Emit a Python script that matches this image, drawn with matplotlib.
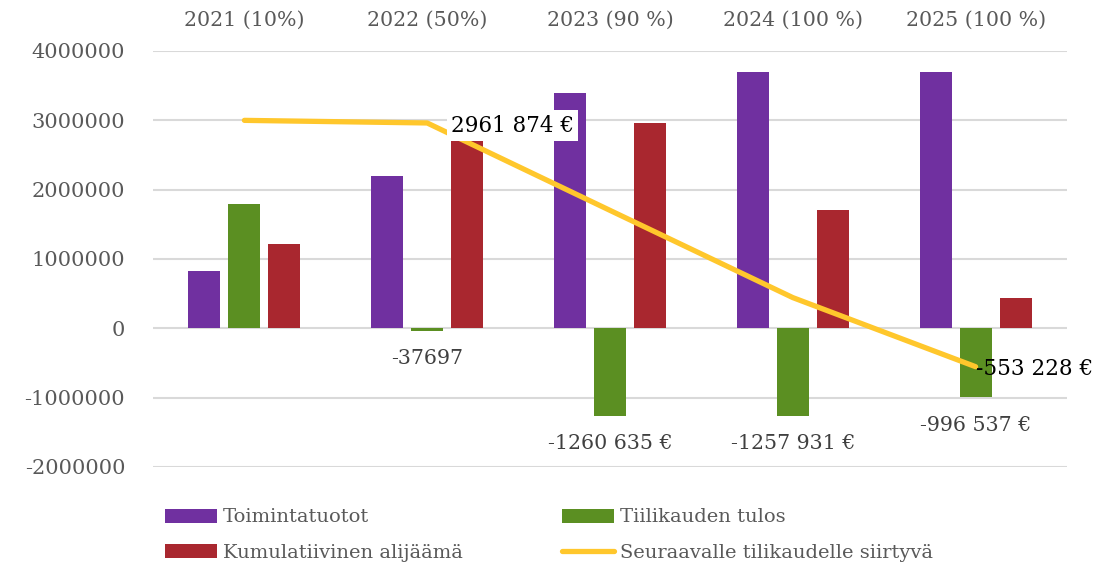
import matplotlib
matplotlib.use("Agg")
import matplotlib.pyplot as plt
import numpy as np

# data
vuodet = ['2021 (10%)', '2022 (50%)', '2023 (90 %)', '2024 (100 %)', '2025 (100 %)']
toimintatuotot = [830000, 2190000, 3390000, 3690000, 3690000]
tulos = [1790000, -37697, -1260635, -1257931, -996537]
kumulatiivinen = [1210000, 2999571, 2961874, 1701239, 443308]
siirtyva = [2999571, 2961874, 1701239, 443308, -553228]
tulos_labels = ['', '-37697', '-1260 635 €', '-1257 931 €', '-996 537 €']
siirtyva_labels = {1: '2961 874 €', 4: '-553 228 €'}
yticks = [-2000000, -1000000, 0, 1000000, 2000000, 3000000, 4000000]

purple = '#7030A0'
green = '#5B8F22'
red = '#A9272F'
yellow = '#FFC72C'
grey = '#595959'

plt.rcParams['font.family'] = ['DejaVu Serif']

fig = plt.figure(figsize=(11.10, 5.73), dpi=100)
ax = fig.add_axes([153/1110, 1-467/573, (1067-153)/1110, (467-51)/573])

x = np.arange(len(vuodet))
w = 0.175
d = 0.219
b1 = ax.bar(x - d, toimintatuotot, w, color=purple, label='Toimintatuotot', zorder=2)
b2 = ax.bar(x, tulos, w, color=green, label='Tiilikauden tulos', zorder=2)
b3 = ax.bar(x + d, kumulatiivinen, w, color=red, label='Kumulatiivinen alijäämä', zorder=2)
ln, = ax.plot(x, siirtyva, color=yellow, lw=3.8, solid_capstyle='round',
              label='Seuraavalle tilikaudelle siirtyvä', zorder=3)

# labels for result bars
for i, t in enumerate(tulos_labels):
    if t:
        ax.annotate(t, (x[i], tulos[i]), xytext=(0, -20), textcoords='offset points',
                    ha='center', va='center', fontsize=14.8, color='#404040')

for i, t in siirtyva_labels.items():
    ax.annotate(t, (x[i], siirtyva[i]), xytext=(17 if i == 1 else 0, -2),
                textcoords='offset points', ha='left', va='center', fontsize=15.5,
                color='black', zorder=4,
                bbox=dict(boxstyle='square,pad=0.2', fc='white', ec='none') if i == 1 else None)

ax.set_xlim(-0.5, 4.5)
ax.set_ylim(-2000000, 4000000)
ax.set_yticks(yticks)
ax.set_yticklabels([str(v) for v in yticks])
ax.set_xticks(x)
ax.set_xticklabels(vuodet)
ax.xaxis.tick_top()
ax.tick_params(axis='x', length=0, pad=15, labelsize=14.8, colors=grey)
ax.tick_params(axis='y', length=0, pad=20, labelsize=15, colors=grey)
ax.grid(axis='y', color='#D9D9D9', lw=1.5, zorder=0)
ax.set_axisbelow(True)
for s in ax.spines.values():
    s.set_visible(False)

fig.legend([b1, b3, b2, ln],
           ['Toimintatuotot', 'Kumulatiivinen alijäämä', 'Tiilikauden tulos',
            'Seuraavalle tilikaudelle siirtyvä'],
           ncol=2, loc='upper left', bbox_to_anchor=(147/1110, 1-491/573),
           frameon=False, fontsize=14, labelcolor=grey, handlelength=2.7,
           handleheight=0.7, handletextpad=0.3, columnspacing=5.1, labelspacing=0.9)

fig.savefig('out.png', dpi=100)
